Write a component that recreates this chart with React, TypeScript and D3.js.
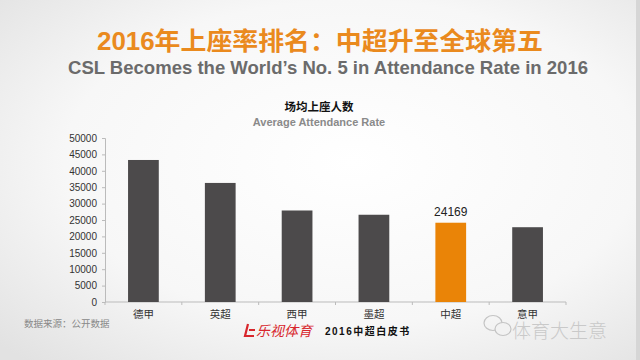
import React, { useEffect, useRef } from 'react';
import * as d3 from 'd3';

const leagues = ['德甲', '英超', '西甲', '墨超', '中超', '意甲'];
const attendance = [43300, 36300, 27900, 26600, 24169, 22800];
const yTicks = [0, 5000, 10000, 15000, 20000, 25000, 30000, 35000, 40000, 45000, 50000];
const highlight = '中超';

const App = () => {
    const svgRef = useRef<SVGSVGElement>(null);

    useEffect(() => {
        const svg = d3.select(svgRef.current);
        svg.selectAll('*').remove();

        const W = 640, H = 360;
        const margin = { top: 138, right: 74, bottom: 58, left: 105 };

        // background: soft vignette
        const defs = svg.append('defs');
        const grad = defs.append('radialGradient')
            .attr('id', 'bg').attr('cx', '55%').attr('cy', '45%').attr('r', '75%');
        grad.append('stop').attr('offset', '0%').attr('stop-color', '#ffffff');
        grad.append('stop').attr('offset', '60%').attr('stop-color', '#f7f7f7');
        grad.append('stop').attr('offset', '100%').attr('stop-color', '#e2e2e2');
        svg.append('rect').attr('width', W).attr('height', H).attr('fill', 'url(#bg)');
        svg.append('rect').attr('x', 636).attr('width', 4).attr('height', H).attr('fill', '#d6d6d6');

        const font = '"Liberation Sans", Arial, "Noto Sans CJK SC", sans-serif';

        // titles
        svg.append('text').attr('x', 320).attr('y', 50)
            .attr('text-anchor', 'middle').attr('font-family', font)
            .attr('font-weight', 'bold').attr('font-size', 25).attr('fill', '#ea8a1e')
            .attr('textLength', 446).attr('lengthAdjust', 'spacingAndGlyphs')
            .text('2016年上座率排名：中超升至全球第五');
        svg.append('text').attr('x', 328).attr('y', 74)
            .attr('text-anchor', 'middle').attr('font-family', font)
            .attr('font-weight', 'bold').attr('font-size', 19).attr('fill', '#6b6b6b')
            .attr('textLength', 520).attr('lengthAdjust', 'spacingAndGlyphs')
            .text('CSL Becomes the World\u2019s No. 5 in Attendance Rate in 2016');

        svg.append('text').attr('x', 319).attr('y', 111)
            .attr('text-anchor', 'middle').attr('font-family', font)
            .attr('font-weight', 'bold').attr('font-size', 11.5).attr('fill', '#111')
            .text('场均上座人数');
        svg.append('text').attr('x', 319).attr('y', 126)
            .attr('text-anchor', 'middle').attr('font-family', font)
            .attr('font-weight', 'bold').attr('font-size', 11).attr('fill', '#8a8a8a')
            .text('Average Attendance Rate');

        const width = W - margin.left - margin.right;
        const height = 302 - margin.top;

        const g = svg.append('g').attr('transform', `translate(${margin.left},${margin.top})`);

        const x = d3.scaleBand().domain(leagues).range([0, width]).paddingInner(0.6).paddingOuter(0.3);
        const y = d3.scaleLinear().domain([0, 50000]).range([height, 0]);

        // y axis
        const yAxis = g.append('g')
            .call(d3.axisLeft(y).tickValues(yTicks).tickFormat(d3.format('d')).tickSize(3).tickPadding(5));
        yAxis.select('.domain').attr('stroke', '#bbb');
        yAxis.selectAll('.tick line').attr('stroke', '#bbb');
        yAxis.selectAll('.tick text').attr('font-family', font).attr('font-size', 10).attr('fill', '#333');

        // x axis with ticks at band edges
        const xAxis = g.append('g').attr('transform', `translate(0,${height})`);
        xAxis.append('line').attr('x1', 0).attr('x2', width).attr('stroke', '#bbb');
        const edges = d3.range(leagues.length + 1).map(i => i * width / leagues.length);
        xAxis.selectAll('.edge').data(edges).join('line')
            .attr('x1', d => d).attr('x2', d => d).attr('y1', 0).attr('y2', 3).attr('stroke', '#bbb');

        // bars
        g.selectAll('.bar').data(leagues).join('rect')
            .attr('x', d => x(d) as number)
            .attr('width', x.bandwidth())
            .attr('y', (d, i) => y(attendance[i]))
            .attr('height', (d, i) => height - y(attendance[i]))
            .attr('fill', d => d === highlight ? '#ea8407' : '#4c4a4b');

        // value label
        const hi = leagues.indexOf(highlight);
        g.append('text')
            .attr('x', (x(highlight) as number) + x.bandwidth() / 2)
            .attr('y', y(attendance[hi]) - 7)
            .attr('text-anchor', 'middle').attr('font-family', font).attr('font-size', 12).attr('fill', '#222')
            .text(String(attendance[hi]));

        // footer
        svg.append('text').attr('x', 24).attr('y', 327).attr('font-family', font)
            .attr('font-size', 9.5).attr('fill', '#888').text('数据来源：公开数据');

        const logo = svg.append('g').attr('transform', 'translate(245,324)');
        logo.append('path').attr('d', 'M3,0 L0,12 L9,12').attr('fill', 'none').attr('stroke', '#d8262c').attr('stroke-width', 2.2);
        logo.append('path').attr('d', 'M4,6 L10,6').attr('stroke', '#d8262c').attr('stroke-width', 2);
        logo.append('text').attr('x', 11).attr('y', 12).attr('font-family', font)
            .attr('font-size', 14).attr('font-style', 'italic').attr('fill', '#d8262c')
            .attr('textLength', 56).attr('lengthAdjust', 'spacingAndGlyphs')
            .text('乐视体育');
        svg.append('text').attr('x', 325).attr('y', 335).attr('font-family', font)
            .attr('font-size', 10).attr('font-weight', 'bold').attr('fill', '#111')
            .attr('letter-spacing', 1.5).text('2016中超白皮书');

        // watermark
        const wm = svg.append('g').attr('transform', 'translate(484,315)').attr('fill', 'none').attr('stroke', '#c4c4c4').attr('stroke-width', 1.2);
        wm.append('ellipse').attr('cx', 9).attr('cy', 8).attr('rx', 9).attr('ry', 7.5);
        wm.append('ellipse').attr('cx', 19).attr('cy', 14).attr('rx', 8).attr('ry', 6.5).attr('fill', '#f2f2f2');
        svg.append('text').attr('x', 512).attr('y', 338).attr('font-family', '"Noto Sans CJK SC", sans-serif')
            .attr('font-size', 19).attr('font-weight', 300).attr('fill', '#c9c9c9').text('体育大生意');

        // x labels on top of watermark
        svg.append('g').attr('transform', `translate(${margin.left},${margin.top + height})`)
            .selectAll('text').data(leagues).join('text')
            .attr('x', d => (x(d) as number) + x.bandwidth() / 2).attr('y', 16)
            .attr('text-anchor', 'middle').attr('font-family', font).attr('font-size', 10.5).attr('fill', '#333')
            .text(d => d);
    }, []);

    return <svg ref={svgRef} width={640} height={360} style={{ display: 'block', position: 'absolute', left: 0, top: 0 }}></svg>;
};

export default App;
